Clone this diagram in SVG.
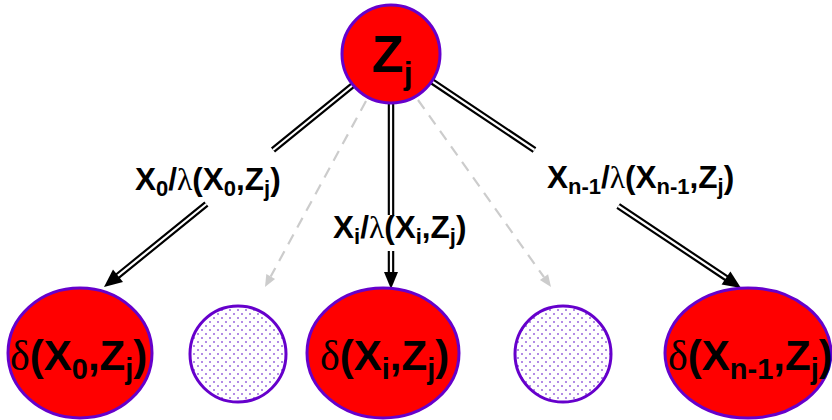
<svg xmlns="http://www.w3.org/2000/svg" width="832" height="420" viewBox="0 0 832 420">
<style>
.red{fill:#ff0000;stroke:#6600cc;stroke-width:3}
.dot{fill:url(#dots);stroke:#6600cc;stroke-width:3}
.outer{fill:none;stroke:#000;stroke-width:6.5}
.inner{fill:none;stroke:#fff;stroke-width:2.2}
.dash{fill:none;stroke:#cccccc;stroke-width:2.2;stroke-dasharray:11 8}
.ah{fill:#000}
.gh{fill:#cccccc}
text{font-family:"Liberation Sans",Arial,sans-serif;font-weight:bold;fill:#000}
.lbl{font-size:31.5px}
.sub{font-size:22px}
.big{font-size:42px}
.bsub{font-size:29px}
.gr{font-family:"Liberation Serif","Times New Roman",serif;font-weight:normal}
</style>
<defs>
<pattern id="dots" width="8" height="8" patternUnits="userSpaceOnUse">
<rect width="8" height="8" fill="#fff"/>
<circle cx="2" cy="2" r="1" fill="#9966dd"/>
<circle cx="6" cy="6" r="1" fill="#9966dd"/>
</pattern>
</defs>
<g id="connectors">
<g id="e-left">
<path class="outer" d="M353,85 L273,150 M206.4,204 L114.9,278.2"/>
<path class="inner" d="M353,85 L273,150 M206.4,204 L114.9,278.2"/>
<polygon class="ah" points="104,287 113,269.5 123,281.9"/>
</g>
<g id="e-mid">
<path class="outer" d="M391,103 V215 M391,251 V275"/>
<path class="inner" d="M391,103 V215 M391,251 V275"/>
<polygon class="ah" points="391,289 384,272 398,272"/>
</g>
<g id="e-right">
<path class="outer" d="M431.7,81.2 L534.5,150 M618.2,206 L729.4,280.2"/>
<path class="inner" d="M431.7,81.2 L534.5,150 M618.2,206 L729.4,280.2"/>
<polygon class="ah" points="741,288 721.6,284.6 730.4,271.4"/>
</g>
<g id="e-gl">
<path class="dash" d="M366,101 L270.7,276.5"/>
<polygon class="gh" points="265,287 266.3,274.1 275.1,278.9"/>
</g>
<g id="e-gr">
<path class="dash" d="M418,100 L544,277.2"/>
<polygon class="gh" points="551,287 539.9,280.1 548.1,274.3"/>
</g>
<text class="lbl" x="135" y="190">X<tspan class="sub" dy="6">0</tspan><tspan dy="-6">/</tspan><tspan class="gr">λ</tspan>(X<tspan class="sub" dy="6">0</tspan><tspan dy="-6">,Z</tspan><tspan class="sub" dy="6">j</tspan><tspan dy="-6">)</tspan></text>
<text class="lbl" x="333" y="238">X<tspan class="sub" dy="6">i</tspan><tspan dy="-6">/</tspan><tspan class="gr">λ</tspan>(X<tspan class="sub" dy="6">i</tspan><tspan dy="-6">,Z</tspan><tspan class="sub" dy="6">j</tspan><tspan dy="-6">)</tspan></text>
<text class="lbl" x="547" y="188">X<tspan class="sub" dy="6">n-1</tspan><tspan dy="-6">/</tspan><tspan class="gr">λ</tspan>(X<tspan class="sub" dy="6">n-1</tspan><tspan dy="-6">,Z</tspan><tspan class="sub" dy="6">j</tspan><tspan dy="-6">)</tspan></text>
</g>
<g id="n-z">
<circle class="red" cx="391" cy="54" r="49"/>
<text x="372" y="72" style="font-size:52px">Z<tspan dy="12" style="font-size:32px">j</tspan></text>
</g>
<g id="n-d0">
<ellipse class="red" cx="80" cy="353" rx="72" ry="65"/>
<text class="big" x="10" y="370"><tspan class="gr">δ</tspan>(X<tspan class="bsub" dy="9">0</tspan><tspan dy="-9">,Z</tspan><tspan class="bsub" dy="9">j</tspan><tspan dy="-9">)</tspan></text>
</g>
<g id="n-p1">
<circle class="dot" cx="238" cy="354" r="48"/>
</g>
<g id="n-di">
<ellipse class="red" cx="383" cy="353" rx="76" ry="65"/>
<text class="big" x="320" y="370"><tspan class="gr">δ</tspan>(X<tspan class="bsub" dy="9">i</tspan><tspan dy="-9">,Z</tspan><tspan class="bsub" dy="9">j</tspan><tspan dy="-9">)</tspan></text>
</g>
<g id="n-p2">
<circle class="dot" cx="563" cy="354" r="48"/>
</g>
<g id="n-dn">
<ellipse class="red" cx="748" cy="353" rx="83" ry="65"/>
<text class="big" x="668" y="370"><tspan class="gr">δ</tspan>(X<tspan class="bsub" dy="9">n-1</tspan><tspan dy="-9">,Z</tspan><tspan class="bsub" dy="9">j</tspan><tspan dy="-9">)</tspan></text>
</g>
</svg>
